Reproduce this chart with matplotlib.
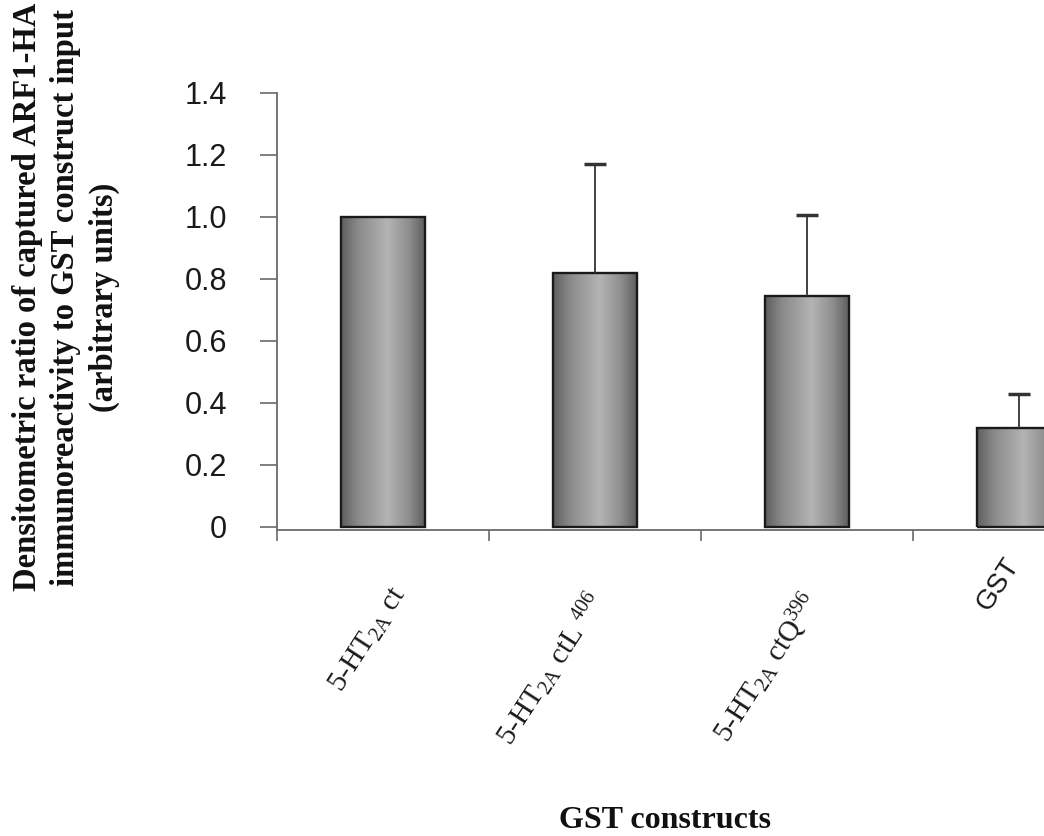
import matplotlib
matplotlib.use("Agg")
import matplotlib.pyplot as plt
import numpy as np
from matplotlib.colors import LinearSegmentedColormap
from matplotlib.transforms import ScaledTranslation

# Data
constructs = [r'5-HT$\mathregular{_{2A}}$ ct',
              r'5-HT$\mathregular{_{2A}}$ ctL $\mathregular{^{406}}$',
              r'5-HT$\mathregular{_{2A}}$ ctQ$\mathregular{^{396}}$',
              'GST']
ratio = [1.0, 0.82, 0.745, 0.32]
sem = [0.0, 0.35, 0.26, 0.11]
ytick_vals = [0, 0.2, 0.4, 0.6, 0.8, 1.0, 1.2, 1.4]
ytick_text = ['0', '0.2', '0.4', '0.6', '0.8', '1.0', '1.2', '1.4']

W, H = 1044, 836
fig = plt.figure(figsize=(W / 100, H / 100), dpi=100)
fig.patch.set_facecolor('white')

# axes runs off the right edge like the scanned original
ax = fig.add_axes([277 / W, 1 - 530 / H, 848 / W, (530 - 93) / H])

x = np.arange(len(ratio))
bar_w = 0.40

# horizontal grey shading inside each bar
shade = LinearSegmentedColormap.from_list(
    'shade', [(0, '#5e5e5e'), (0.2, '#8a8a8a'), (0.55, '#b4b4b4'),
              (0.8, '#8e8e8e'), (1, '#5c5c5c')])
grad = np.linspace(0, 1, 256).reshape(1, -1)

bars = ax.bar(x, ratio, width=bar_w, facecolor='none', edgecolor='#1a1a1a',
              linewidth=1.7, zorder=3)
for b in bars:
    ax.imshow(grad, cmap=shade, aspect='auto', zorder=2,
              extent=[b.get_x(), b.get_x() + b.get_width(), 0, b.get_height()])

# positive error bars only, skip the reference bar with no error
idx = [i for i, e in enumerate(sem) if e > 0]
tops = [ratio[i] for i in idx]
eb = ax.errorbar(x[idx], tops, yerr=[[0] * len(idx), [sem[i] for i in idx]],
                 fmt='none', ecolor='#333333', elinewidth=1.3, capsize=8,
                 capthick=2.5, zorder=4)
for cl in eb[1]:
    if np.allclose(cl.get_ydata(), tops):
        cl.set_visible(False)

ax.set_xlim(-0.5, 3.5)
ax.set_ylim(-0.01, 1.4)

for s in ['top', 'right']:
    ax.spines[s].set_visible(False)
for s in ['left', 'bottom']:
    ax.spines[s].set_color('#6a6a6a')
    ax.spines[s].set_linewidth(1.3)

ax.set_yticks(ytick_vals)
ax.set_yticklabels(ytick_text, fontsize=22, family='Liberation Sans', color='#1a1a1a')
ax.tick_params(axis='y', length=12, width=1.2, color='#6a6a6a', pad=24)

ax.set_xticks(x)
ax.set_xticks([-0.5, 0.5, 1.5, 2.5, 3.5], minor=True)
ax.tick_params(axis='x', which='major', length=0, pad=41)
ax.tick_params(axis='x', which='minor', length=8, width=1.2, color='#6a6a6a')
ax.set_xticklabels(constructs, rotation=57, ha='right', fontsize=21,
                   family='Liberation Serif', color='#1a1a1a')
xlabs = ax.get_xticklabels()
xlabs[-1].set_family('Liberation Sans')
xlabs[-1].set_fontsize(20)
# nudge labels to where the original put them (pixels right, up)
nudges = [(29, 5), (17, 0), (20, 0), (6, 34)]
for lab, (dx, dy) in zip(xlabs, nudges):
    lab.set_transform(lab.get_transform() +
                      ScaledTranslation(dx / 100, dy / 100, fig.dpi_scale_trans))

fig.text(66 / W, 1 - 297 / H,
         'Densitometric ratio of captured ARF1-HA\n'
         'immunoreactivity to GST construct input\n(arbitrary units)',
         rotation=90, ha='center', va='center', multialignment='center',
         fontsize=23.5, fontweight='bold', family='Liberation Serif',
         linespacing=1.3, color='#111111')
fig.text(665 / W, 1 / H, 'GST constructs', ha='center', va='bottom',
         fontsize=23, fontweight='bold', family='Liberation Serif',
         color='#111111')

fig.savefig('out.png', dpi=100, facecolor='white')
